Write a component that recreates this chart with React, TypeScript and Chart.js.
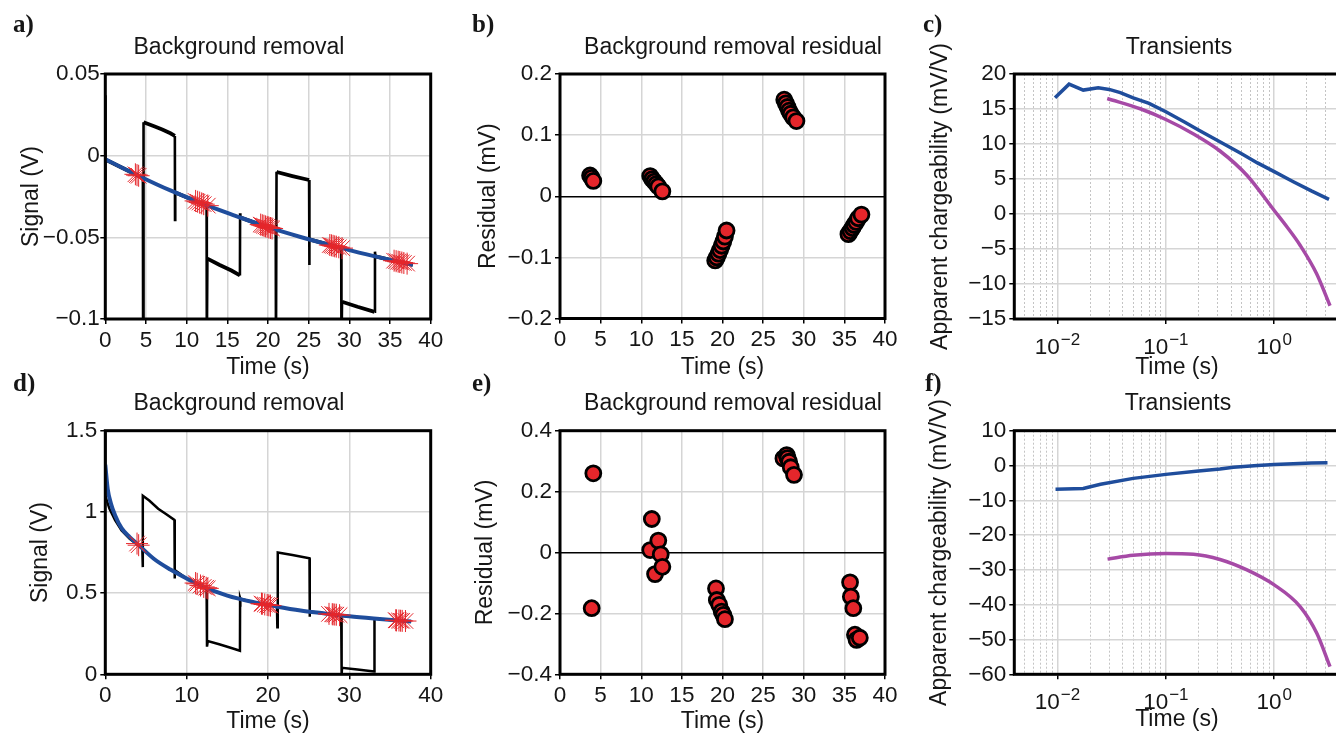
import React, { useEffect, useRef } from 'react';
import { Chart, registerables } from 'chart.js';

Chart.register(...registerables);

const SANS = '"Liberation Sans", Arial, Helvetica, sans-serif';
const SERIF = '"Liberation Serif", "Times New Roman", Times, serif';
Chart.defaults.font.family = SANS;

// ---------------- data ----------------
// a) raw signal (V) and fitted background
const A_RAW_T = [0, 0, 0.05, 2, 4, 4.62, 4.65, 4.7, 6, 7, 8, 8.55, 8.57, 8.6, 10, 12, 12.45, 12.48, 12.55, 14, 15.5, 16.55, 16.57, 16.6, 18, 20, 20.95, 20.98, 21.05, 21.2, 23, 25.05, 25.08, 25.1, 27, 29, 29.03, 29.1, 31, 33.1, 33.15, 33.2, 35, 37.8];
const A_RAW_V = [0.037, -0.021, -0.0025, -0.0072, -0.0121, -0.0135, -0.12, 0.0205, 0.018, 0.016, 0.0137, 0.0121, -0.0394, -0.0225, -0.0255, -0.0295, -0.0302, -0.12, -0.063, -0.0668, -0.0703, -0.0733, -0.0353, -0.0378, -0.0404, -0.0438, -0.0452, -0.12, -0.0098, -0.0102, -0.0125, -0.0149, -0.067, -0.0513, -0.0538, -0.0566, -0.12, -0.0894, -0.0925, -0.0956, -0.0588, -0.0617, -0.0638, -0.0668];
const A_FIT_T = [0, 4, 8, 12, 16, 20, 24, 28, 32, 36, 37.8];
const A_FIT_V = [-0.0022, -0.0121, -0.0213, -0.0295, -0.0368, -0.0438, -0.0498, -0.0552, -0.0603, -0.0649, -0.0668];
// b) residual sample times (s) and values (mV); a) samples on background
const B_T = [3.7, 3.9, 4.1, 11.1, 11.35, 11.6, 11.85, 12.1, 12.6, 19.1, 19.3, 19.5, 19.7, 19.9, 20.1, 20.3, 20.5, 27.6, 27.8, 28.0, 28.2, 28.4, 28.7, 29.1, 35.5, 35.75, 36.0, 36.2, 36.45, 36.7, 37.1];
const B_V = [0.034, 0.03, 0.025, 0.033, 0.028, 0.024, 0.02, 0.016, 0.008, -0.105, -0.1, -0.094, -0.088, -0.081, -0.074, -0.066, -0.056, 0.158, 0.152, 0.146, 0.14, 0.135, 0.129, 0.123, -0.062, -0.057, -0.052, -0.047, -0.042, -0.036, -0.03];
const A_STAR_V = [-0.0114, -0.0119, -0.0123, -0.0277, -0.0282, -0.0287, -0.0292, -0.0297, -0.0306, -0.0422, -0.0426, -0.0429, -0.0433, -0.0436, -0.044, -0.0443, -0.0446, -0.0547, -0.0549, -0.0552, -0.0555, -0.0557, -0.0561, -0.0566, -0.0643, -0.0646, -0.0649, -0.0651, -0.0654, -0.0657, -0.0661];
// c) transients (mV/V)
const C_T1 = [0.0095, 0.0128, 0.0173, 0.0238, 0.03, 0.038, 0.05, 0.07, 0.1, 0.15, 0.2, 0.3, 0.5, 0.7, 1.0, 1.5, 2.2, 3.2];
const C_V1 = [16.6, 18.55, 17.7, 18.05, 17.8, 17.35, 16.6, 15.8, 14.6, 13.1, 12.0, 10.5, 8.6, 7.3, 6.05, 4.6, 3.3, 2.1];
const C_T2 = [0.0288, 0.0589, 0.1, 0.182, 0.316, 0.562, 1.0, 1.318, 1.738, 2.455, 3.27];
const C_V2 = [16.5, 15.0, 13.5, 11.4, 9.0, 5.5, 0.5, -1.9, -4.5, -8.5, -13.1];
// d) raw signal (V) and fitted background
const D_RAW_T = [0, 0, 0.5, 1.2, 2, 3, 4.55, 4.6, 4.62, 5.4, 6.5, 7.5, 8.5, 8.52, 8.55, 10, 12.45, 12.5, 12.6, 14, 15.3, 16.55, 16.57, 16.6, 18, 21.1, 21.15, 21.2, 23, 25.1, 25.12, 25.15, 27, 29.0, 29.05, 29.1, 31, 33.05, 33.08, 33.1, 35, 37.6];
const D_RAW_V = [1.49, 1.10, 1.02, 0.95, 0.885, 0.835, 0.775, 0.66, 1.10, 1.07, 1.02, 0.985, 0.95, 0.59, 0.642, 0.59, 0.532, 0.17, 0.205, 0.185, 0.165, 0.145, 0.47, 0.465, 0.447, 0.418, 0.29, 0.75, 0.735, 0.715, 0.355, 0.386, 0.375, 0.358, 0.0, 0.04, 0.03, 0.018, 0.334, 0.343, 0.335, 0.325];
const D_FIT_T = [0, 0.3, 0.7, 1.2, 2, 3, 4, 6, 8, 10, 12, 15, 18, 21, 24, 27, 30, 33, 36, 37.6];
const D_FIT_V = [1.29, 1.14, 1.05, 0.98, 0.9, 0.845, 0.8, 0.71, 0.645, 0.59, 0.54, 0.485, 0.447, 0.418, 0.393, 0.375, 0.357, 0.343, 0.331, 0.325];
// e) residual sample times (s) and values (mV); d) samples on background
const E_T = [3.9, 4.1, 11.1, 11.3, 11.7, 12.1, 12.4, 12.6, 19.2, 19.3, 19.6, 19.9, 20.1, 20.3, 27.5, 27.9, 28.0, 28.2, 28.4, 28.8, 35.7, 35.8, 36.1, 36.3, 36.5, 36.9];
const E_V = [-0.183, 0.26, 0.008, 0.11, -0.071, 0.039, -0.006, -0.047, -0.118, -0.156, -0.172, -0.194, -0.205, -0.219, 0.309, 0.32, 0.31, 0.298, 0.28, 0.255, -0.098, -0.145, -0.183, -0.27, -0.287, -0.28];
const D_STAR_V = [0.805, 0.795, 0.562, 0.557, 0.547, 0.538, 0.533, 0.529, 0.435, 0.434, 0.43, 0.427, 0.425, 0.423, 0.372, 0.37, 0.369, 0.368, 0.367, 0.364, 0.333, 0.332, 0.331, 0.33, 0.329, 0.328];
// f) transients (mV/V)
const F_T1 = [0.0096, 0.0173, 0.025, 0.05, 0.1, 0.2, 0.316, 0.42, 0.7, 1.0, 1.5, 2.2, 3.1];
const F_V1 = [-6.8, -6.6, -5.4, -3.7, -2.55, -1.6, -1.0, -0.5, 0.0, 0.3, 0.5, 0.7, 0.8];
const F_T2 = [0.029, 0.05, 0.1, 0.18, 0.316, 0.56, 1.0, 1.74, 2.47, 3.27];
const F_V2 = [-26.9, -25.8, -25.3, -25.5, -27.0, -30.0, -34.3, -40.6, -48.2, -57.8];

// ticks
const A_X_TICKS = [0, 5, 10, 15, 20, 25, 30, 35, 40];
const A_Y_TICKS = [-0.1, -0.05, 0, 0.05];
const B_Y_TICKS = [-0.2, -0.1, 0, 0.1, 0.2];
const C_Y_TICKS = [-15, -10, -5, 0, 5, 10, 15, 20];
const D_X_TICKS = [0, 10, 20, 30, 40];
const D_Y_TICKS = [0, 0.5, 1, 1.5];
const E_Y_TICKS = [-0.4, -0.2, 0, 0.2, 0.4];
const F_Y_TICKS = [-60, -50, -40, -30, -20, -10, 0, 10];
const LOG_MIN = 0.004;
const LOG_MAX = 4;
const LOG_TICKS = [0.004, 0.005, 0.006, 0.007, 0.008, 0.009, 0.01, 0.02, 0.03, 0.04, 0.05, 0.06, 0.07, 0.08, 0.09, 0.1, 0.2, 0.3, 0.4, 0.5, 0.6, 0.7, 0.8, 0.9, 1, 2, 3, 4];
const LOG_MAJOR = [0.01, 0.1, 1];

// ---------------- styles ----------------
const TXT = '#161616';
const GRID = '#d5d5d5';
const GRID_MINOR = '#c4c4c4';
const BLUE = '#1f4d9c';
const MAGENTA = '#a64aa6';
const RED = '#e5262b';

const pts = (xs: number[], ys: number[]) => xs.map((x, i) => ({ x, y: ys[i] }));
const fmt = (v: number) => {
  const r = Math.round(v * 1e6) / 1e6;
  return (r < 0 ? '\u2212' : '') + String(Math.abs(r));
};
const isMajorLog = (v: number) => Math.abs(Math.log10(v) - Math.round(Math.log10(v))) < 1e-6;

function linAxis(min: number, max: number, ticks: number[], title: string, titlePad: any, tickPad: number, zeroBlack = false): any {
  return {
    type: 'linear',
    min,
    max,
    afterBuildTicks: (s: any) => {
      s.ticks = ticks.map((v) => ({ value: v }));
    },
    ticks: {
      autoSkip: false,
      maxRotation: 0,
      minRotation: 0,
      padding: tickPad,
      color: TXT,
      font: { size: 22.5 },
      callback: (v: any) => fmt(Number(v)),
    },
    grid: {
      color: (c: any) => (zeroBlack && c.tick && Math.abs(c.tick.value) < 1e-9 ? '#000' : GRID),
      lineWidth: 1.5,
      tickColor: '#000',
      tickLength: 5,
      tickWidth: 1.5,
    },
    border: { display: false },
    title: { display: true, text: title, color: TXT, font: { size: 23 }, padding: titlePad },
  };
}

function logAxis(title: string, titlePad: any): any {
  const maj = (c: any) => !!(c.tick && isMajorLog(c.tick.value));
  return {
    type: 'logarithmic',
    min: LOG_MIN,
    max: LOG_MAX,
    afterBuildTicks: (s: any) => {
      s.ticks = LOG_TICKS.map((v) => ({ value: v }));
    },
    ticks: { display: false, autoSkip: false },
    grid: {
      color: (c: any) => (maj(c) ? GRID : GRID_MINOR),
      lineWidth: (c: any) => (maj(c) ? 1.5 : 1),
      tickColor: (c: any) => (maj(c) ? '#000' : 'rgba(0,0,0,0)'),
      tickLength: 5,
      tickWidth: 1.5,
    },
    border: { display: false, dash: (c: any) => (c.tick && !isMajorLog(c.tick.value) ? [2, 2] : []) },
    title: { display: true, text: title, color: TXT, font: { size: 23 }, padding: titlePad },
  };
}

const lineDs = (data: any[], color: string, width: number, extra: any = {}) => ({
  data,
  borderColor: color,
  backgroundColor: color,
  borderWidth: width,
  pointRadius: 0,
  pointHoverRadius: 0,
  fill: false,
  tension: 0,
  ...extra,
});
const dotDs = (data: any[]) => ({
  data,
  showLine: false,
  pointStyle: 'circle',
  pointRadius: 7.5,
  pointBackgroundColor: RED,
  pointBorderColor: '#000',
  pointBorderWidth: 2.8,
});
const starDs = (data: any[]) => ({
  data,
  showLine: false,
  pointStyle: 'star',
  pointRadius: 11,
  pointBackgroundColor: RED,
  pointBorderColor: RED,
  pointBorderWidth: 1,
});

type Spec = {
  key: string;
  canvas: { x: number; y: number; w: number; h: number };
  plot: { l: number; t: number; r: number; b: number };
  label: string;
  labelAt: [number, number];
  title: string;
  titleAt: [number, number];
  log: boolean;
  x: any;
  y: any;
  datasets: any[];
};

const thinIfVertical = (c: any) => (Math.abs(c.p1.parsed.x - c.p0.parsed.x) < 0.1 ? 2.6 : 3.8);

const SPECS: Spec[] = [
  {
    key: 'a',
    canvas: { x: 0, y: 0, w: 480, h: 385 },
    plot: { l: 105.3, t: 74, r: 430.7, b: 319 },
    label: 'a)',
    labelAt: [13, 32],
    title: 'Background removal',
    titleAt: [239, 54],
    log: false,
    x: linAxis(0, 40, A_X_TICKS, 'Time (s)', { top: 0, bottom: 3.2 }, 3),
    y: linAxis(-0.1, 0.05, A_Y_TICKS, 'Signal (V)', { top: 18.2, bottom: 0 }, 0.5),
    datasets: [
      starDs(pts(B_T, A_STAR_V)),
      lineDs(pts(A_FIT_T, A_FIT_V), BLUE, 4, { cubicInterpolationMode: 'monotone' }),
      lineDs(pts(A_RAW_T, A_RAW_V), '#000', 2.6, { segment: { borderWidth: thinIfVertical } }),
    ],
  },
  {
    key: 'b',
    canvas: { x: 450, y: 0, w: 470, h: 385 },
    plot: { l: 560, t: 74, r: 885, b: 318.5 },
    label: 'b)',
    labelAt: [472, 32],
    title: 'Background removal residual',
    titleAt: [733, 54],
    log: false,
    x: linAxis(0, 40, A_X_TICKS, 'Time (s)', { top: 0, bottom: 3.2 }, 3),
    y: linAxis(-0.2, 0.2, B_Y_TICKS, 'Residual (mV)', { top: 24.5, bottom: 0 }, 3, true),
    datasets: [dotDs(pts(B_T, B_V))],
  },
  {
    key: 'c',
    canvas: { x: 900, y: 0, w: 460, h: 385 },
    plot: { l: 1014.3, t: 74, r: 1339.5, b: 319 },
    label: 'c)',
    labelAt: [923, 32],
    title: 'Transients',
    titleAt: [1179, 54],
    log: true,
    x: logAxis('Time (s)', { top: 0, bottom: 3.2 }),
    y: linAxis(-15, 20, C_Y_TICKS, 'Apparent chargeability (mV/V)', { top: 26.9, bottom: 0 }, 3),
    datasets: [
      lineDs(pts(C_T2, C_V2), MAGENTA, 3.5, { cubicInterpolationMode: 'monotone' }),
      lineDs(pts(C_T1, C_V1), BLUE, 3.5),
    ],
  },
  {
    key: 'd',
    canvas: { x: 0, y: 365, w: 480, h: 375 },
    plot: { l: 105.3, t: 430.7, r: 430.7, b: 674.3 },
    label: 'd)',
    labelAt: [13, 391],
    title: 'Background removal',
    titleAt: [239, 410],
    log: false,
    x: linAxis(0, 40, D_X_TICKS, 'Time (s)', { top: 0, bottom: 4.5 }, 3),
    y: linAxis(0, 1.5, D_Y_TICKS, 'Signal (V)', { top: 26.9, bottom: 0 }, 3),
    datasets: [
      starDs(pts(E_T, D_STAR_V)),
      lineDs(pts(D_FIT_T, D_FIT_V), BLUE, 4, { cubicInterpolationMode: 'monotone' }),
      lineDs(pts(D_RAW_T, D_RAW_V), '#000', 2.5),
    ],
  },
  {
    key: 'e',
    canvas: { x: 450, y: 365, w: 470, h: 375 },
    plot: { l: 560, t: 430.7, r: 885, b: 674.3 },
    label: 'e)',
    labelAt: [472, 391],
    title: 'Background removal residual',
    titleAt: [733, 410],
    log: false,
    x: linAxis(0, 40, A_X_TICKS, 'Time (s)', { top: 0, bottom: 4.5 }, 3),
    y: linAxis(-0.4, 0.4, E_Y_TICKS, 'Residual (mV)', { top: 21.9, bottom: 0 }, 3, true),
    datasets: [dotDs(pts(E_T, E_V))],
  },
  {
    key: 'f',
    canvas: { x: 900, y: 365, w: 460, h: 375 },
    plot: { l: 1014.3, t: 430.7, r: 1339.5, b: 674.3 },
    label: 'f)',
    labelAt: [925, 391],
    title: 'Transients',
    titleAt: [1178, 410],
    log: true,
    x: logAxis('Time (s)', { top: 0, bottom: 6.2 }),
    y: linAxis(-60, 10, F_Y_TICKS, 'Apparent chargeability (mV/V)', { top: 26.2, bottom: 0 }, 3),
    datasets: [
      lineDs(pts(F_T2, F_V2), MAGENTA, 3.5, { cubicInterpolationMode: 'monotone' }),
      lineDs(pts(F_T1, F_V1), BLUE, 3.5),
    ],
  },
];

function decorPlugin(p: Spec) {
  return {
    id: 'decor',
    afterDraw(chart: any) {
      const { ctx, chartArea: a } = chart;
      ctx.save();
      ctx.strokeStyle = '#000';
      ctx.lineWidth = 3;
      ctx.strokeRect(a.left, a.top, a.right - a.left, a.bottom - a.top);
      ctx.fillStyle = TXT;
      ctx.textBaseline = 'alphabetic';
      ctx.textAlign = 'left';
      ctx.font = `bold 25px ${SERIF}`;
      ctx.fillText(p.label, p.labelAt[0] - p.canvas.x, p.labelAt[1] - p.canvas.y);
      ctx.textAlign = 'center';
      ctx.font = `23px ${SANS}`;
      ctx.fillText(p.title, p.titleAt[0] - p.canvas.x, p.titleAt[1] - p.canvas.y);
      if (p.log) {
        const s = chart.scales.x;
        const base = a.bottom + 35;
        ctx.textAlign = 'left';
        for (const v of LOG_MAJOR) {
          const e = Math.round(Math.log10(v));
          const mant = '10';
          const exp = e < 0 ? '\u2212' + String(-e) : String(e);
          ctx.font = `22.5px ${SANS}`;
          const w1 = ctx.measureText(mant).width;
          ctx.font = `17px ${SANS}`;
          const w2 = ctx.measureText(exp).width;
          const x0 = s.getPixelForValue(v) - (w1 + w2 + 1) / 2;
          ctx.font = `22.5px ${SANS}`;
          ctx.fillText(mant, x0, base);
          ctx.font = `17px ${SANS}`;
          ctx.fillText(exp, x0 + w1 + 1, base - 9);
        }
      }
      ctx.restore();
    },
  };
}

function buildConfig(p: Spec): any {
  const { canvas: cv, plot } = p;
  const yW = plot.l - cv.x;
  const xH = cv.y + cv.h - plot.b;
  const x = { ...p.x, afterFit: (s: any) => { s.height = xH; } };
  const y = { ...p.y, afterFit: (s: any) => { s.width = yW; } };
  return {
    type: 'line',
    data: { datasets: p.datasets },
    options: {
      responsive: false,
      animation: false,
      devicePixelRatio: 1,
      events: [],
      layout: { padding: { left: 0, top: plot.t - cv.y, right: cv.x + cv.w - plot.r, bottom: 0 } },
      plugins: { legend: { display: false }, tooltip: { enabled: false }, title: { display: false } },
      scales: { x, y },
    },
    plugins: [decorPlugin(p)],
  };
}

function PanelCanvas({ spec }: { spec: Spec }) {
  const ref = useRef<HTMLCanvasElement | null>(null);
  useEffect(() => {
    if (!ref.current) return;
    const chart = new Chart(ref.current, buildConfig(spec));
    return () => chart.destroy();
  }, [spec]);
  const c = spec.canvas;
  return (
    <canvas
      ref={ref}
      width={c.w}
      height={c.h}
      style={{ position: 'absolute', left: c.x, top: c.y, width: c.w, height: c.h, display: 'block' }}
    />
  );
}

export default function App() {
  return (
    <div style={{ position: 'fixed', left: 0, top: 0, width: 1336, height: 734, overflow: 'hidden', background: '#fff' }}>
      {SPECS.map((s) => (
        <PanelCanvas key={s.key} spec={s} />
      ))}
    </div>
  );
}
